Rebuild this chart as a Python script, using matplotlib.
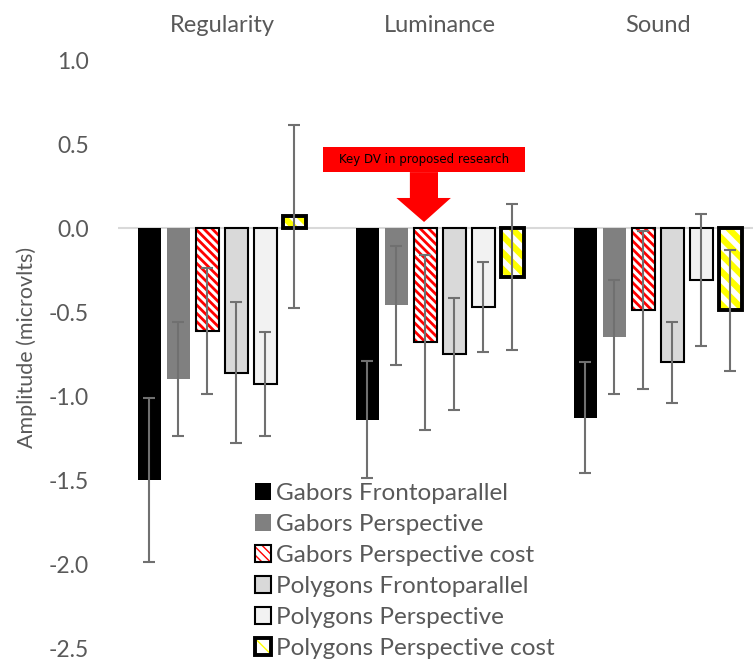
import numpy as np
import matplotlib
matplotlib.use("Agg")
import matplotlib.pyplot as plt
from matplotlib.patches import Rectangle, Polygon
from matplotlib.legend_handler import HandlerTuple

plt.rcParams['font.family'] = ['Lato', 'DejaVu Sans']

# mean amplitude and error per condition, one value per task
tasks = ["Regularity", "Luminance", "Sound"]
series = ["Gabors Frontoparallel", "Gabors Perspective", "Gabors Perspective cost",
          "Polygons Frontoparallel", "Polygons Perspective", "Polygons Perspective cost"]

gabors_front = [-1.50, -1.14, -1.13]
gabors_persp = [-0.90, -0.46, -0.65]
gabors_cost = [-0.61, -0.68, -0.49]
poly_front = [-0.86, -0.75, -0.80]
poly_persp = [-0.93, -0.47, -0.31]
poly_cost = [0.07, -0.29, -0.49]

gabors_front_err = [0.49, 0.35, 0.33]
gabors_persp_err = [0.34, 0.355, 0.34]
gabors_cost_err = [0.375, 0.52, 0.47]
poly_front_err = [0.42, 0.335, 0.24]
poly_persp_err = [0.31, 0.27, 0.395]
poly_cost_err = [0.545, 0.435, 0.36]

means = [gabors_front, gabors_persp, gabors_cost, poly_front, poly_persp, poly_cost]
errs = [gabors_front_err, gabors_persp_err, gabors_cost_err,
        poly_front_err, poly_persp_err, poly_cost_err]

# (face, edge, edge width, hatch, hatch colour, hatch width)
styles = [
    ("black", "black", 0.0, None, None, 0),
    ("#808080", "#808080", 0.0, None, None, 0),
    ("white", "black", 1.5, "\\\\\\\\", "red", 2.0),
    ("#d9d9d9", "black", 1.5, None, None, 0),
    ("#f2f2f2", "black", 1.5, None, None, 0),
    ("white", "black", 2.8, "\\\\", "yellow", 4.5),
]

fig = plt.figure(figsize=(7.53, 6.62), dpi=100)
ax = fig.add_axes([0.1567, 0.0211, 0.8433, 0.8882])

x = np.arange(len(tasks))
pitch = 0.133
width = 0.105
handles = []
for i, (vals, ev, st) in enumerate(zip(means, errs, styles)):
    face, edge, lw, hatch, hcol, hlw = st
    xs = x + (i - 2.5) * pitch
    if hatch:
        with plt.rc_context({'hatch.linewidth': hlw, 'hatch.color': hcol}):
            h1 = ax.bar(xs, vals, width, color=face, edgecolor=hcol, hatch=hatch,
                        linewidth=0, zorder=2)
        h2 = ax.bar(xs, vals, width, fill=False, edgecolor=edge, linewidth=lw, zorder=3)
        handles.append((h1, h2))
    else:
        h = ax.bar(xs, vals, width, color=face, edgecolor=edge, linewidth=lw, zorder=2)
        handles.append(h)
    ax.errorbar(xs, vals, yerr=ev, fmt="none", ecolor="#707070", elinewidth=1.5,
                capsize=4.5, capthick=1.5, zorder=4)

ax.axhline(0, color="#d9d9d9", linewidth=1.5, zorder=1)

ax.set_xlim(-0.477, 2.436)
ax.set_ylim(-2.5, 1.0)
ticks = np.arange(-2.5, 1.01, 0.5)
ax.set_yticks(ticks)
ax.set_yticklabels([f"{v:.1f}" for v in ticks])
ax.tick_params(axis="y", length=0, pad=21, labelsize=16.5, labelcolor="#595959")
ax.xaxis.tick_top()
ax.set_xticks(x)
ax.set_xticklabels(tasks)
ax.tick_params(axis="x", length=0, pad=17, labelsize=17, labelcolor="#595959")
for s in ax.spines.values():
    s.set_visible(False)

ax.set_ylabel("Amplitude (microvlts)", fontsize=15.5, color="#595959")
ax.yaxis.set_label_coords(-0.128, 0.512)

# callout arrow pointing at the luminance cost bar
ax.add_patch(Rectangle((0.463, 0.333), 0.927, 0.149, facecolor="red",
                       edgecolor="none", zorder=5))
ax.add_patch(Polygon([(0.862, 0.333), (0.991, 0.333), (0.991, 0.179), (1.05, 0.179),
                      (0.927, 0.036), (0.80, 0.179), (0.862, 0.179)],
                     closed=True, facecolor="red", edgecolor="none", zorder=5))
ax.text(0.927, 0.41, "Key DV in proposed research", ha="center", va="center",
        fontsize=8.5, color="black", family="DejaVu Sans", zorder=6)

leg = ax.legend(handles=handles, labels=series, loc="upper left",
                bbox_to_anchor=(0.2, 0.297), frameon=False, fontsize=17.5,
                handlelength=0.65, handleheight=0.65, handletextpad=0.22,
                labelspacing=0.41, borderaxespad=0,
                handler_map={tuple: HandlerTuple(ndivide=1, pad=0)})
for t in leg.get_texts():
    t.set_color("#595959")

fig.savefig("out.png", dpi=100)
